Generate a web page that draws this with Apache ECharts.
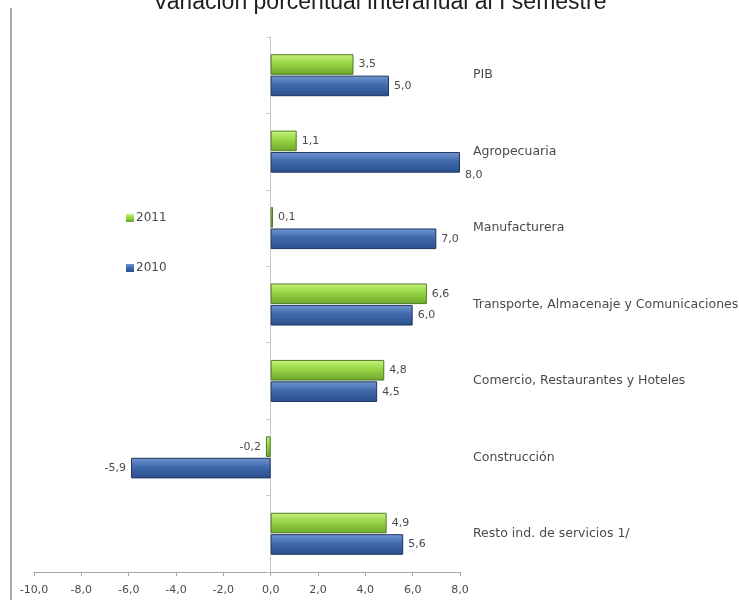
<!DOCTYPE html>
<html>
<head>
<meta charset="utf-8">
<script src="https://cdn.jsdelivr.net/npm/echarts@6/dist/echarts.min.js"></script>
<style>
  html, body { margin: 0; padding: 0; background: #ffffff; }
  #chart { width: 739px; height: 600px; }
</style>
</head>
<body>
<div id="chart"></div>
<script>
// Sectores y variación porcentual interanual (I semestre)
const categories = [
  'PIB',
  'Agropecuaria',
  'Manufacturera',
  'Transporte, Almacenaje y Comunicaciones',
  'Comercio, Restaurantes y Hoteles',
  'Construcción',
  'Resto ind. de servicios 1/'
];
const values2011 = [3.5, 1.1, 0.1, 6.6, 4.8, -0.2, 4.9];
const values2010 = [5.0, 8.0, 7.0, 6.0, 4.5, -5.9, 5.6];
const seriesNames = ['2011', '2010'];
const titleText = 'Variación porcentual interanual al I semestre';

const FONT = 'DejaVu Sans';
const TEXT_GRAY = '#4a4a4a';

const fmt = v => v.toFixed(1).replace('.', ',');

const greenFill = new echarts.graphic.LinearGradient(0, 0, 0, 1, [
  { offset: 0, color: '#c8f47c' },
  { offset: 0.45, color: '#97d446' },
  { offset: 1, color: '#6ca82a' }
]);
const blueFill = new echarts.graphic.LinearGradient(0, 0, 0, 1, [
  { offset: 0, color: '#7298d2' },
  { offset: 0.45, color: '#4069ad' },
  { offset: 1, color: '#2b4f8c' }
]);

// Valores negativos: etiqueta a la izquierda; 2010 Agropecuaria: etiqueta bajo la barra
function withLabels(values, special) {
  return values.map((v, i) => {
    if (v < 0) return { value: v, label: { position: 'left' } };
    if (special && special[i]) return { value: v, label: special[i] };
    return v;
  });
}

const chart = echarts.init(document.getElementById('chart'), null, { renderer: 'canvas' });

chart.setOption({
  backgroundColor: '#ffffff',
  animation: false,
  title: {
    text: titleText,
    left: 148,
    top: -14,
    textStyle: { fontFamily: 'Liberation Sans', fontSize: 23, fontWeight: 'normal', color: '#1e1e1e' }
  },
  legend: {
    data: seriesNames,
    orient: 'vertical',
    left: 121,
    top: 207,
    itemWidth: 8,
    itemHeight: 8,
    itemGap: 38,
    icon: 'rect',
    itemStyle: { borderWidth: 0 },
    textStyle: { fontFamily: FONT, fontSize: 12, color: TEXT_GRAY, padding: [0, 0, 0, -3] }
  },
  grid: {
    left: 34, right: 279, top: 37, bottom: 28,
    containLabel: false,
    outerBoundsMode: 'none'
  },
  xAxis: {
    type: 'value',
    min: -10,
    max: 8,
    interval: 2,
    axisLine: { show: true, lineStyle: { color: '#a6a6a6', width: 1 } },
    axisTick: { show: true, length: 4, lineStyle: { color: '#a6a6a6' } },
    splitLine: { show: false },
    axisLabel: {
      fontFamily: FONT, fontSize: 11, color: TEXT_GRAY, margin: 13,
      formatter: v => fmt(v)
    }
  },
  yAxis: [
    {
      type: 'category',
      data: categories,
      inverse: true,
      axisLine: { show: true, onZero: true, lineStyle: { color: '#c8c8c8', width: 1 } },
      axisTick: { show: true, length: 4, lineStyle: { color: '#c8c8c8' } },
      axisLabel: { show: false }
    },
    {
      type: 'category',
      data: categories,
      inverse: true,
      position: 'right',
      axisLine: { show: false },
      axisTick: { show: false },
      axisLabel: {
        show: true, align: 'left', margin: 13,
        fontFamily: FONT, fontSize: 12.5, color: TEXT_GRAY
      }
    }
  ],
  series: [
    {
      name: seriesNames[0],
      type: 'bar',
      yAxisIndex: 0,
      data: withLabels(values2011),
      barGap: '4%',
      barCategoryGap: '45%',
      itemStyle: { color: greenFill, borderColor: '#4f7a22', borderWidth: 1 },
      label: {
        show: true, position: 'right', distance: 5,
        fontFamily: FONT, fontSize: 11, color: TEXT_GRAY,
        formatter: p => fmt(p.value)
      }
    },
    {
      name: seriesNames[1],
      type: 'bar',
      yAxisIndex: 0,
      data: withLabels(values2010, { 1: { offset: [0, 13] } }),
      barGap: '4%',
      barCategoryGap: '45%',
      itemStyle: { color: blueFill, borderColor: '#1d355f', borderWidth: 1 },
      label: {
        show: true, position: 'right', distance: 5,
        fontFamily: FONT, fontSize: 11, color: TEXT_GRAY,
        formatter: p => fmt(p.value)
      }
    }
  ],
  graphic: [
    {
      type: 'line',
      shape: { x1: 11, y1: 8, x2: 11, y2: 600 },
      style: { stroke: '#ababab', lineWidth: 2 },
      silent: true
    }
  ]
});
</script>
</body>
</html>
